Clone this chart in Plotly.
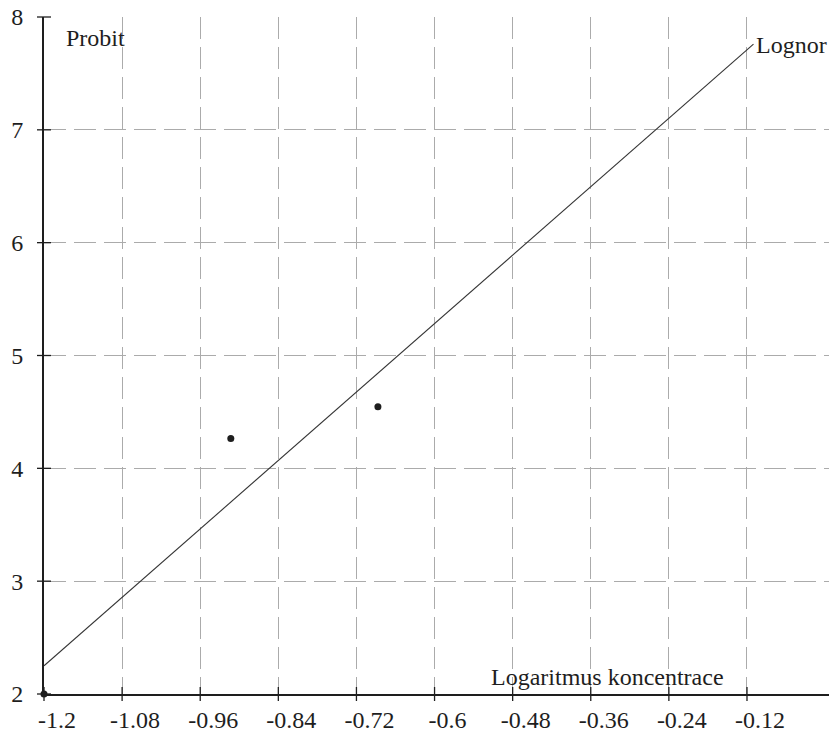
import plotly.graph_objects as go

# Probit vs. log concentration: observed points and the fitted line
log_conc = [-1.2, -0.913, -0.687]
probit = [2.0, 4.265, 4.545]

fit_x = [-1.2, -0.11]
fit_y = [2.25, 7.76]

x_ticks = [-1.2, -1.08, -0.96, -0.84, -0.72, -0.6, -0.48, -0.36, -0.24, -0.12]
x_tick_labels = ["-1.2", "-1.08", "-0.96", "-0.84", "-0.72", "-0.6",
                 "-0.48", "-0.36", "-0.24", "-0.12"]
y_ticks = [2, 3, 4, 5, 6, 7, 8]
y_tick_labels = ["2", "3", "4", "5", "6", "7", "8"]

ink = "#1e1e1e"
grid = "#ababab"
font_family = "Liberation Serif, Times New Roman, serif"

fig = go.Figure()

# fitted probit line
fig.add_trace(go.Scatter(
    x=fit_x, y=fit_y, mode="lines",
    line=dict(color="#333333", width=1.1),
    hoverinfo="skip",
))

# observed points
fig.add_trace(go.Scatter(
    x=log_conc, y=probit, mode="markers",
    marker=dict(color=ink, size=7),
    cliponaxis=False,
))

# cross-shaped tick marks on both axes
fig.add_trace(go.Scatter(
    x=x_ticks, y=[y_ticks[0]] * len(x_ticks), mode="markers",
    marker=dict(symbol="line-ns", size=10, line=dict(color=ink, width=1.3)),
    cliponaxis=False, hoverinfo="skip",
))
fig.add_trace(go.Scatter(
    x=[x_ticks[0]] * len(y_ticks), y=y_ticks, mode="markers",
    marker=dict(symbol="line-ew", size=10, line=dict(color=ink, width=1.3)),
    cliponaxis=False, hoverinfo="skip",
))

fig.add_annotation(x=x_ticks[0], y=y_ticks[-1], xref="x", yref="y",
                   text="Probit", showarrow=False, xanchor="left", yanchor="middle",
                   xshift=20, yshift=-21, font=dict(size=24, color=ink, family=font_family))
fig.add_annotation(x=fit_x[-1], y=fit_y[-1], xref="x", yref="y",
                   text="Lognor", showarrow=False, xanchor="left", yanchor="middle",
                   xshift=1, yshift=-1, font=dict(size=24, color=ink, family=font_family))
fig.add_annotation(x=-0.516, y=y_ticks[0], xref="x", yref="y",
                   text="Logaritmus koncentrace", showarrow=False,
                   xanchor="left", yanchor="bottom", yshift=2,
                   font=dict(size=24, color=ink, family=font_family))

fig.update_layout(
    width=829, height=740,
    margin=dict(l=44, r=0, t=17, b=46),
    paper_bgcolor="white", plot_bgcolor="white",
    showlegend=False,
    font=dict(family=font_family, size=24, color=ink),
    xaxis=dict(
        range=[-1.2, 0.006], tickmode="array", tickvals=x_ticks, ticktext=x_tick_labels,
        showgrid=True, gridcolor=grid, gridwidth=1, griddash="22px,8px",
        showline=True, linecolor=ink, linewidth=1.5, zeroline=False,
        ticks="", ticklabelshift=13, ticklabelstandoff=3,
    ),
    yaxis=dict(
        range=[2, 8], tickmode="array", tickvals=y_ticks, ticktext=y_tick_labels,
        showgrid=True, gridcolor=grid, gridwidth=1, griddash="22px,8px",
        showline=True, linecolor=ink, linewidth=2, zeroline=False,
        ticks="", ticklabelstandoff=14,
    ),
)

fig.write_html("out.html")
